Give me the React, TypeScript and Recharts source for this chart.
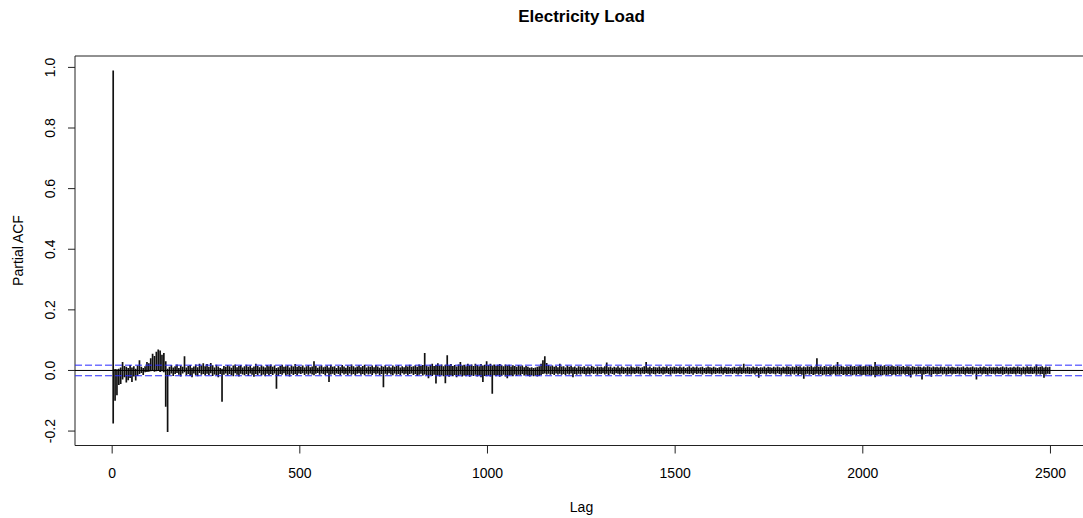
import React from 'react';
import { BarChart, Bar, XAxis, YAxis, ReferenceLine, ReferenceArea } from 'recharts';

// partial autocorrelations in bins of 5 lags (units of 0.001)
// hi = tallest positive line in the bin, lo = deepest negative line
const hiSeg0 = [
  990, 5, 4, 6, 10, 28, 15, 12, 8, 18,
  10, 14, 6, 16, 34, 12, 8, 14, 28, 24,
  40, 55, 48, 62, 69, 66, 52, 58, 30, 6,
  12, 18, 10, 14, 20, 8, 16, 12, 47, 10,
  15, 18, 9, 13, 20, 11, 22, 16, 24, 14,
  21, 12, 25, 17, 10, 19, 13, 8, 6, 15,
  12, 18, 14, 9, 16, 20, 11, 15, 18, 10,
  14, 19, 12, 16, 9, 13, 22, 15, 11, 17,
  13, 10, 18, 14, 20, 12, 16, 8, 11, 15,
  19, 12, 14, 17, 10, 16, 13, 21, 12, 15,
];
const loSeg0 = [
  -175, -100, -82, -48, -45, -30, -22, -40, -32, -25,
  -38, -20, -33, -18, -12, -8, -15, -6, -5, -4,
  -3, -2, -4, -3, -2, -5, -3, -6, -120, -203,
  -15, -10, -18, -12, -8, -14, -20, -10, -6, -16,
  -12, -18, -22, -10, -15, -19, -8, -14, -12, -17,
  -11, -15, -9, -18, -13, -16, -22, -12, -103, -14,
  -10, -17, -12, -15, -19, -9, -14, -20, -11, -13,
  -16, -12, -18, -10, -14, -21, -12, -15, -9, -17,
  -13, -19, -11, -16, -12, -15, -10, -60, -18, -12,
  -14, -9, -17, -13, -20, -11, -15, -12, -16, -10,
];
const hiSeg1 = [
  12, 16, 10, 14, 18, 11, 13, 30, 15, 9,
  14, 17, 11, 13, 16, 10, 19, 12, 14, 8,
  15, 11, 18, 13, 9, 16, 12, 20, 14, 10,
  13, 17, 11, 15, 19, 10, 14, 12, 16, 11,
  18, 13, 9, 15, 12, 17, 11, 14, 10, 16,
  12, 15, 18, 10, 14, 11, 16, 13, 19, 12,
  14, 17, 12, 20, 15, 18, 58, 16, 13, 19,
  22, 15, 18, 24, 16, 20, 14, 19, 50, 17,
  21, 15, 18, 13, 20, 28, 16, 19, 14, 22,
  17, 20, 15, 22, 18, 14, 21, 16, 19, 30,
];
const loSeg1 = [
  -12, -9, -15, -11, -14, -10, -13, -16, -11, -8,
  -14, -10, -12, -16, -9, -38, -13, -11, -15, -10,
  -12, -16, -9, -13, -11, -15, -10, -14, -12, -17,
  -11, -9, -14, -12, -16, -10, -13, -11, -15, -9,
  -13, -10, -15, -12, -55, -11, -14, -9, -13, -16,
  -10, -14, -12, -15, -9, -13, -11, -16, -12, -10,
  -15, -12, -18, -14, -11, -17, -13, -16, -26, -15,
  -18, -14, -43, -16, -20, -15, -19, -42, -17, -21,
  -16, -19, -15, -22, -18, -14, -20, -17, -19, -15,
  -21, -16, -18, -14, -20, -17, -22, -38, -18, -19,
];
const hiSeg2 = [
  18, 22, 16, 20, 15, 19, 21, 17, 14, 20,
  16, 19, 13, 17, 15, 12, 18, 14, 16, 11,
  15, 12, 9, 11, 8, 10, 12, 14, 22, 34,
  47, 25, 18, 14, 16, 12, 15, 11, 22, 13,
  14, 10, 16, 12, 15, 11, 13, 9, 14, 12,
  11, 14, 9, 13, 10, 15, 12, 8, 13, 11,
  12, 10, 14, 26, 11, 13, 9, 12, 10, 14,
  9, 13, 11, 8, 12, 10, 14, 11, 9, 13,
  12, 9, 11, 14, 28, 10, 13, 8, 12, 11,
  10, 13, 9, 12, 11, 14, 8, 12, 10, 13,
];
const loSeg2 = [
  -17, -20, -77, -16, -19, -15, -21, -18, -14, -20,
  -26, -17, -15, -19, -13, -18, -14, -16, -12, -17,
  -14, -18, -20, -16, -19, -17, -20, -18, -15, -12,
  -10, -13, -11, -14, -12, -15, -10, -13, -11, -14,
  -12, -15, -11, -13, -10, -22, -12, -14, -11, -13,
  -10, -12, -14, -11, -13, -9, -12, -10, -14, -11,
  -12, -9, -13, -11, -15, -10, -12, -14, -9, -11,
  -13, -10, -12, -9, -14, -11, -13, -10, -12, -9,
  -11, -13, -10, -12, -9, -11, -14, -10, -12, -13,
  -9, -12, -10, -13, -11, -9, -12, -14, -10, -11,
];
const hiSeg3 = [
  11, 9, 13, 10, 12, 8, 11, 14, 9, 12,
  10, 13, 9, 11, 12, 8, 10, 13, 11, 9,
  12, 10, 8, 11, 13, 9, 12, 10, 11, 8,
  10, 12, 9, 11, 13, 10, 22, 9, 12, 11,
  9, 13, 10, 12, 8, 11, 10, 13, 9, 12,
  11, 9, 12, 10, 13, 11, 9, 12, 10, 14,
  12, 10, 13, 11, 15, 12, 14, 10, 13, 11,
  14, 12, 15, 11, 13, 40, 12, 14, 11, 15,
  13, 11, 14, 12, 16, 13, 28, 12, 15, 13,
  11, 14, 12, 16, 13, 15, 12, 14, 17, 13,
];
const loSeg3 = [
  -11, -9, -12, -10, -13, -9, -11, -12, -10, -14,
  -9, -12, -10, -11, -13, -9, -12, -10, -11, -13,
  -10, -12, -9, -11, -10, -13, -9, -12, -11, -10,
  -12, -9, -11, -13, -10, -12, -9, -11, -10, -12,
  -11, -10, -13, -9, -24, -12, -10, -11, -13, -9,
  -12, -10, -11, -13, -9, -12, -14, -10, -11, -13,
  -12, -14, -11, -13, -10, -15, -12, -14, -27, -13,
  -11, -14, -12, -15, -13, -11, -14, -12, -16, -13,
  -14, -12, -15, -13, -11, -16, -13, -14, -12, -15,
  -13, -15, -12, -14, -16, -13, -15, -12, -14, -16,
];
const hiSeg4 = [
  14, 16, 13, 17, 15, 12, 28, 15, 13, 16,
  14, 17, 12, 15, 13, 16, 14, 12, 15, 13,
  12, 15, 11, 14, 13, 10, 14, 12, 11, 13,
  12, 10, 13, 11, 14, 12, 10, 13, 11, 12,
  10, 13, 11, 12, 9, 13, 10, 12, 11, 9,
  12, 10, 11, 13, 9, 12, 10, 11, 13, 10,
  11, 9, 12, 10, 13, 11, 9, 12, 10, 11,
  10, 12, 9, 11, 13, 10, 12, 9, 11, 10,
  12, 10, 13, 11, 9, 12, 10, 14, 11, 12,
  10, 13, 20, 11, 12, 14, 10, 13, 11, 12,
];
const loSeg4 = [
  -14, -16, -13, -15, -17, -14, -22, -16, -13, -15,
  -16, -13, -15, -14, -12, -16, -13, -15, -12, -14,
  -13, -11, -14, -12, -15, -23, -13, -11, -14, -12,
  -11, -30, -13, -12, -10, -14, -21, -12, -11, -13,
  -12, -10, -13, -11, -14, -12, -10, -13, -11, -12,
  -10, -13, -11, -12, -14, -10, -12, -11, -13, -10,
  -30, -12, -10, -13, -11, -12, -14, -10, -12, -11,
  -13, -10, -12, -11, -14, -12, -10, -13, -11, -12,
  -11, -13, -10, -12, -14, -11, -13, -10, -12, -11,
  -12, -10, -14, -11, -13, -12, -24, -13, -11, -12,
];

const binSize = 5;
const confLimit = 0.0175;
const xTicks = [0, 500, 1000, 1500, 2000, 2500];
const yTicks = [-0.2, 0, 0.2, 0.4, 0.6, 0.8, 1.0];

const hi = [...hiSeg0, ...hiSeg1, ...hiSeg2, ...hiSeg3, ...hiSeg4];
const lo = [...loSeg0, ...loSeg1, ...loSeg2, ...loSeg3, ...loSeg4];
const data = hi.map((h, i) => ({ lag: i * binSize + 3, range: [lo[i] / 1000, h / 1000] }));

const font = '"Liberation Sans", Arial, sans-serif';

const XTick = (p: any) => (
  <text x={p.x} y={477.5} textAnchor="middle" fontFamily={font} fontSize={14} fill="#000">
    {p.payload.value}
  </text>
);

const YTick = (p: any) => (
  <text transform={`translate(55, ${p.y}) rotate(-90)`} textAnchor="middle" fontFamily={font} fontSize={14} fill="#000">
    {Number(p.payload.value).toFixed(1)}
  </text>
);

export default function App() {
  return (
    <div style={{ position: 'absolute', left: 0, top: 0, width: 1083, height: 518, overflow: 'hidden', background: '#fff' }}>
      <BarChart width={1090} height={518} data={data} margin={{ top: 56, right: 2, left: 0, bottom: 0 }} barCategoryGap={0}>
        <XAxis
          type="number"
          dataKey="lag"
          domain={[-99, 2600]}
          ticks={xTicks}
          height={72.5}
          axisLine={false}
          tickSize={8}
          tickLine={{ stroke: '#222' }}
          tick={XTick}
          allowDataOverflow
        />
        <YAxis
          type="number"
          domain={[-0.2476, 1.0376]}
          ticks={yTicks}
          width={75}
          axisLine={false}
          tickSize={7}
          tickLine={{ stroke: '#222' }}
          tick={YTick}
          allowDataOverflow
        />
        <Bar dataKey="range" fill="#111" barSize={1.9} isAnimationActive={false} />
        <ReferenceLine y={0} stroke="#000" strokeWidth={1} />
        <ReferenceLine y={confLimit} stroke="#2a2aff" strokeDasharray="7 3" strokeWidth={1} />
        <ReferenceLine y={-confLimit} stroke="#2a2aff" strokeDasharray="7 3" strokeWidth={1} />
        <ReferenceArea x1={-99} x2={2600} y1={-0.2476} y2={1.0376} fill="none" stroke="#222" strokeWidth={1} />
      </BarChart>
      <svg width={1083} height={518} style={{ position: 'absolute', left: 0, top: 0, pointerEvents: 'none' }}>
        <text x={581.5} y={22} textAnchor="middle" fontFamily={font} fontSize={17} fontWeight="bold" fill="#000">
          Electricity Load
        </text>
        <text x={581.5} y={512} textAnchor="middle" fontFamily={font} fontSize={14} fill="#000">
          Lag
        </text>
        <text transform="translate(23, 250.5) rotate(-90)" textAnchor="middle" fontFamily={font} fontSize={14} fill="#000">
          Partial ACF
        </text>
      </svg>
    </div>
  );
}
